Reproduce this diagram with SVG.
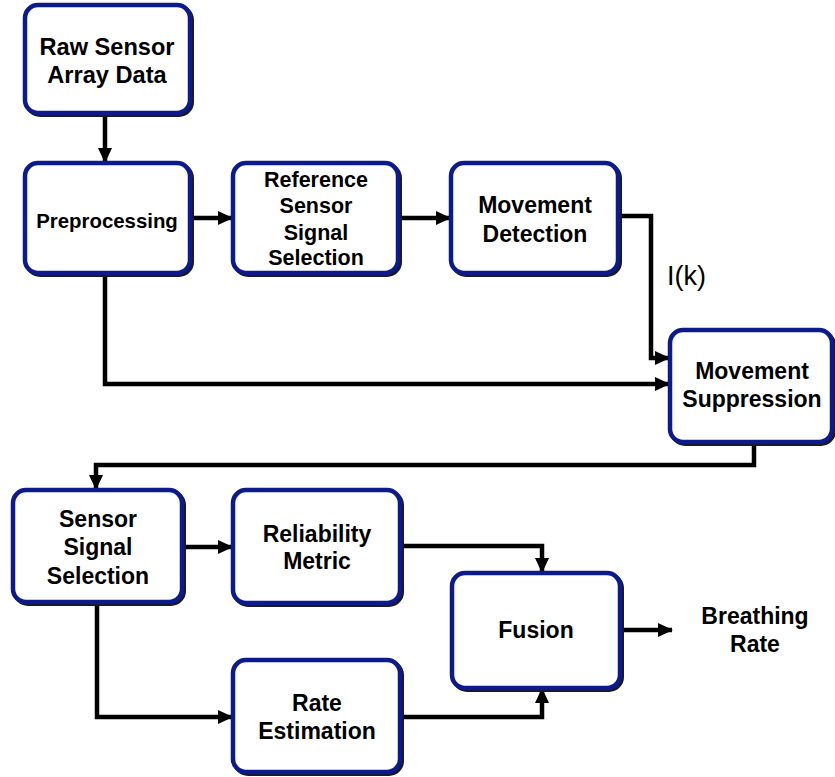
<svg xmlns="http://www.w3.org/2000/svg" width="835" height="777" viewBox="0 0 835 777">
<defs>
<style>
.box{fill:#fff;stroke:#0c1a8e;stroke-width:4.5}
.sh{fill:none;stroke:#1a1a1a;stroke-width:4}
.t{font-family:"Liberation Sans",Arial,sans-serif;font-weight:bold;font-size:23px;fill:#000;text-anchor:middle}
.c{fill:none;stroke:#000;stroke-width:4.5}
</style>
<marker id="a" markerUnits="userSpaceOnUse" markerWidth="16" markerHeight="16" viewBox="0 0 16 16" refX="14" refY="8" orient="auto">
<path d="M0,1 L15,8 L0,15 Z" fill="#000"/>
</marker>
</defs>
<rect width="835" height="777" fill="#fff"/>
<g id="connectors">
<path class="c" d="M105,113 V162" marker-end="url(#a)"/>
<path class="c" d="M190,218 H232" marker-end="url(#a)"/>
<path class="c" d="M398,218 H450" marker-end="url(#a)"/>
<path class="c" d="M618,216 H651 V358 H669" marker-end="url(#a)"/>
<path class="c" d="M105,273 V384 H669" marker-end="url(#a)"/>
<path class="c" d="M754,442 V465 H96 V489" marker-end="url(#a)"/>
<path class="c" d="M182,547 H232" marker-end="url(#a)"/>
<path class="c" d="M97,602 V717 H232" marker-end="url(#a)"/>
<path class="c" d="M400,546 H542 V572" marker-end="url(#a)"/>
<path class="c" d="M400,717 H542 V689" marker-end="url(#a)"/>
<path class="c" d="M622,630 H672" marker-end="url(#a)"/>
</g>
<g id="raw">
<rect class="sh" x="27" y="7" width="165" height="108" rx="13"/>
<rect class="box" x="25" y="5" width="165" height="108" rx="13"/>
<text class="t" x="107" y="55" style="font-size:23.6px">Raw Sensor</text>
<text class="t" x="107" y="83" style="font-size:23.6px">Array Data</text>
</g>
<g id="pre">
<rect class="sh" x="27" y="165" width="165" height="110" rx="13"/>
<rect class="box" x="25" y="163" width="165" height="110" rx="13"/>
<text class="t" x="107" y="228" style="font-size:20.4px">Preprocessing</text>
</g>
<g id="ref">
<rect class="sh" x="235" y="165" width="165" height="110" rx="13"/>
<rect class="box" x="233" y="163" width="165" height="110" rx="13"/>
<text class="t" x="316" y="187" style="font-size:21.5px">Reference</text>
<text class="t" x="316" y="213" style="font-size:21.5px">Sensor</text>
<text class="t" x="316" y="240" style="font-size:21.5px">Signal</text>
<text class="t" x="316" y="265" style="font-size:21.5px">Selection</text>
</g>
<g id="md">
<rect class="sh" x="453" y="165" width="167" height="110" rx="13"/>
<rect class="box" x="451" y="163" width="167" height="110" rx="13"/>
<text class="t" x="535" y="213">Movement</text>
<text class="t" x="535" y="242">Detection</text>
</g>
<g id="ms">
<rect class="sh" x="672" y="332" width="162" height="112" rx="13"/>
<rect class="box" x="670" y="330" width="162" height="112" rx="13"/>
<text class="t" x="752" y="379">Movement</text>
<text class="t" x="752" y="407">Suppression</text>
</g>
<g id="sss">
<rect class="sh" x="15" y="492" width="169" height="112" rx="13"/>
<rect class="box" x="13" y="490" width="169" height="112" rx="13"/>
<text class="t" x="98" y="527">Sensor</text>
<text class="t" x="98" y="555">Signal</text>
<text class="t" x="98" y="584">Selection</text>
</g>
<g id="rm">
<rect class="sh" x="235" y="492" width="167" height="113" rx="13"/>
<rect class="box" x="233" y="490" width="167" height="113" rx="13"/>
<text class="t" x="317" y="542">Reliability</text>
<text class="t" x="317" y="569">Metric</text>
</g>
<g id="re">
<rect class="sh" x="235" y="662" width="167" height="112" rx="13"/>
<rect class="box" x="233" y="660" width="167" height="112" rx="13"/>
<text class="t" x="317" y="711">Rate</text>
<text class="t" x="317" y="739">Estimation</text>
</g>
<g id="fusion">
<rect class="sh" x="454" y="575" width="168" height="115" rx="13"/>
<rect class="box" x="452" y="573" width="168" height="115" rx="13"/>
<text class="t" x="536" y="638">Fusion</text>
</g>
<g id="out">
<text class="t" x="755" y="624">Breathing</text>
<text class="t" x="755" y="652">Rate</text>
</g>
<g id="label">
<text x="667" y="285" style="font-family:'Liberation Sans',Arial,sans-serif;font-size:27px;fill:#000">I(k)</text>
</g>
</svg>
